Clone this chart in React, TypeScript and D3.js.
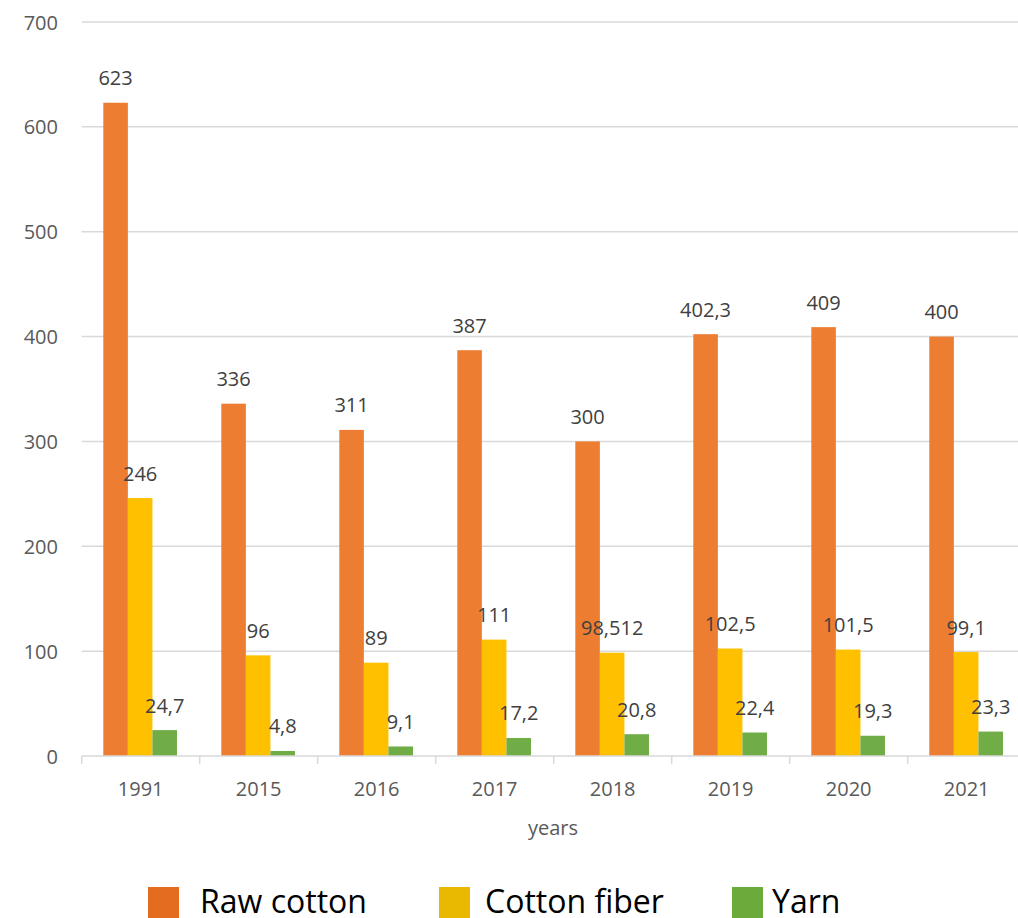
import React from "react";
import * as d3 from "d3";

const years = ["1991", "2015", "2016", "2017", "2018", "2019", "2020", "2021"];
const rawCotton = [623, 336, 311, 387, 300, 402.3, 409, 400];
const cottonFiber = [246, 96, 89, 111, 98.512, 102.5, 101.5, 99.1];
const yarn = [24.7, 4.8, 9.1, 17.2, 20.8, 22.4, 19.3, 23.3];
const rawLabels = ["623", "336", "311", "387", "300", "402,3", "409", "400"];
const fiberLabels = ["246", "96", "89", "111", "98,512", "102,5", "101,5", "99,1"];
const yarnLabels = ["24,7", "4,8", "9,1", "17,2", "20,8", "22,4", "19,3", "23,3"];
const seriesNames = ["Raw cotton", "Cotton fiber", "Yarn"];
const yTicks = [0, 100, 200, 300, 400, 500, 600, 700];

const barColors = ["#ED7D31", "#FFC000", "#70AD47"];
const legendColors = ["#E46C1E", "#E8B900", "#6AAB3C"];

export default function App() {
  const W = 1018;
  const H = 918;
  const left = 81.7;
  const band = 118;
  const x = d3.scaleBand<string>().domain(years).range([left, left + band * years.length]).padding(0);
  const inner = d3.scaleBand<string>().domain(seriesNames).range([21.6, 95.3]).padding(0);
  const y = d3.scaleLinear().domain([0, 700]).range([756, 22]);

  const series = [
    { name: seriesNames[0], values: rawCotton, labels: rawLabels },
    { name: seriesNames[1], values: cottonFiber, labels: fiberLabels },
    { name: seriesNames[2], values: yarn, labels: yarnLabels },
  ];

  const legendItems = [
    { sq: 148, tx: 200 },
    { sq: 439, tx: 485 },
    { sq: 732, tx: 772 },
  ];

  const font = "'Open Sans', sans-serif";

  return (
    <svg
      width={W}
      height={H}
      style={{ position: "absolute", left: 0, top: 0, background: "#fff" }}
      fontFamily={font}
    >
      <rect x={0} y={0} width={W} height={H} fill="#fff" />
      {yTicks.map((t) => (
        <g key={t}>
          {t > 0 && (
            <line x1={left} x2={W} y1={y(t)} y2={y(t)} stroke="#D9D9D9" strokeWidth={1.5} />
          )}
          <text x={58} y={y(t)} textAnchor="end" dominantBaseline="central" fontSize={20} fill="#595959">
            {t}
          </text>
        </g>
      ))}
      {series.map((s, si) =>
        years.map((yr, i) => {
          const bx = (x(yr) as number) + (inner(s.name) as number);
          const bw = inner.bandwidth();
          return (
            <g key={s.name + yr}>
              <rect x={bx} y={y(s.values[i])} width={bw} height={y(0) - y(s.values[i])} fill={barColors[si]} />
              <text
                x={bx + bw / 2}
                y={y(s.values[i]) - 25}
                textAnchor="middle"
                dominantBaseline="central"
                fontSize={20}
                fill="#404040"
              >
                {s.labels[i]}
              </text>
            </g>
          );
        })
      )}
      <line x1={left} x2={W} y1={y(0)} y2={y(0)} stroke="#D9D9D9" strokeWidth={1.5} />
      {years.map((yr) => (
        <line
          key={"tk" + yr}
          x1={x(yr) as number}
          x2={x(yr) as number}
          y1={y(0)}
          y2={y(0) + 8}
          stroke="#D9D9D9"
          strokeWidth={1.5}
        />
      ))}
      {years.map((yr) => (
        <text
          key={"xl" + yr}
          x={(x(yr) as number) + x.bandwidth() / 2}
          y={788}
          textAnchor="middle"
          dominantBaseline="central"
          fontSize={20}
          fill="#595959"
        >
          {yr}
        </text>
      ))}
      <text x={553} y={827} textAnchor="middle" dominantBaseline="central" fontSize={20} fill="#595959">
        years
      </text>
      {seriesNames.map((n, i) => (
        <g key={"lg" + n}>
          <rect x={legendItems[i].sq} y={887} width={31} height={31} fill={legendColors[i]} />
          <text x={legendItems[i].tx} y={913} fontSize={32} fill="#000">
            {n}
          </text>
        </g>
      ))}
    </svg>
  );
}
